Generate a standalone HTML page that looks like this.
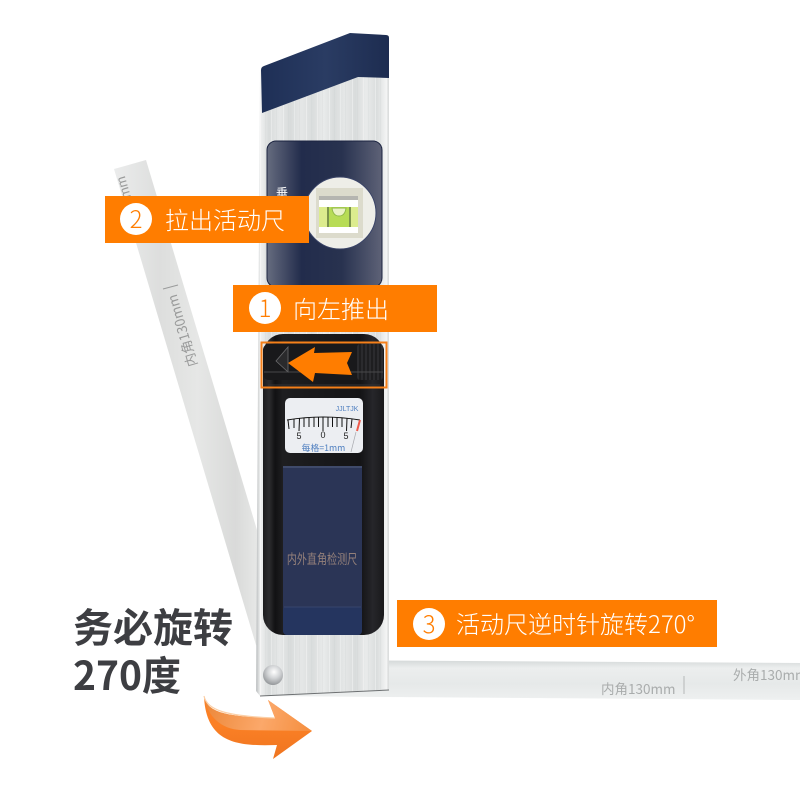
<!DOCTYPE html>
<html lang="zh"><head><meta charset="utf-8"><style>
html,body{margin:0;padding:0;background:#fff;width:800px;height:800px;overflow:hidden}
svg{display:block}
text{font-family:"Liberation Sans","Noto Sans CJK SC",sans-serif}
.cjk{font-family:"Noto Sans CJK SC",sans-serif}
.t{font-family:"Noto Sans CJK SC","Liberation Sans",sans-serif;font-weight:300;font-size:24px;fill:#fff}
.n{font-family:"Noto Sans CJK SC","Liberation Sans",sans-serif;font-weight:300;font-size:24px;fill:#ff7d00;text-anchor:middle}
.b{font-family:"Noto Sans CJK SC",sans-serif;font-weight:700;font-size:40px;fill:#3d3e42}
</style></head><body>
<svg width="800" height="800" viewBox="0 0 800 800" xmlns="http://www.w3.org/2000/svg">
<defs>
<linearGradient id="silver" x1="257" x2="390" y1="0" y2="0" gradientUnits="userSpaceOnUse">
<stop offset="0" stop-color="#c4c7c8"/><stop offset=".025" stop-color="#f0f1f1"/><stop offset=".09" stop-color="#d9dcdc"/><stop offset=".17" stop-color="#e6e8e8"/><stop offset=".25" stop-color="#d8dbdb"/><stop offset=".33" stop-color="#e5e7e7"/><stop offset=".42" stop-color="#dadddd"/><stop offset=".5" stop-color="#e9ebeb"/><stop offset=".58" stop-color="#d9dcdc"/><stop offset=".66" stop-color="#e5e7e7"/><stop offset=".74" stop-color="#d9dcdc"/><stop offset=".82" stop-color="#e9ebeb"/><stop offset=".9" stop-color="#dadddd"/><stop offset=".97" stop-color="#f2f3f3"/><stop offset="1" stop-color="#cfd2d2"/>
</linearGradient>
<pattern id="fine" x="257" y="0" width="23" height="10" patternUnits="userSpaceOnUse">
<rect x="3" width="1" height="10" fill="#fff" opacity=".35"/>
<rect x="8" width="1" height="10" fill="#c9cdcd" opacity=".2"/>
<rect x="14" width="1" height="10" fill="#fff" opacity=".3"/>
<rect x="19" width="1" height="10" fill="#c9cdcd" opacity=".2"/>
</pattern>
<linearGradient id="navy" x1="261" x2="390" y1="0" y2="0" gradientUnits="userSpaceOnUse">
<stop offset="0" stop-color="#1e2f56"/><stop offset=".5" stop-color="#2a3c63"/><stop offset="1" stop-color="#1d2c50"/>
</linearGradient>
<linearGradient id="panel" x1="267" x2="382" y1="0" y2="0" gradientUnits="userSpaceOnUse">
<stop offset="0" stop-color="#666c7f"/><stop offset=".3" stop-color="#222c4c"/><stop offset=".65" stop-color="#28324f"/><stop offset="1" stop-color="#5e6277"/>
</linearGradient>
<linearGradient id="black" x1="263" x2="385" y1="0" y2="0" gradientUnits="userSpaceOnUse">
<stop offset="0" stop-color="#1c1c1e"/><stop offset=".05" stop-color="#2c2c2e"/><stop offset=".1" stop-color="#111113"/><stop offset=".16" stop-color="#1e1e20"/><stop offset=".8" stop-color="#141416"/><stop offset=".9" stop-color="#26262a"/><stop offset="1" stop-color="#18181a"/>
</linearGradient>
<linearGradient id="strip" x1="0" x2="1" y1="0" y2="0">
<stop offset="0" stop-color="#ebecec"/><stop offset=".3" stop-color="#dddedd"/><stop offset=".55" stop-color="#e6e7e6"/><stop offset=".8" stop-color="#d9dad9"/><stop offset="1" stop-color="#ecedec"/>
</linearGradient>
<linearGradient id="hstrip" x1="0" x2="0" y1="0" y2="1">
<stop offset="0" stop-color="#d4d8d8"/><stop offset=".2" stop-color="#eceeee"/><stop offset=".6" stop-color="#e6e9e9"/><stop offset="1" stop-color="#eef0f0"/>
</linearGradient>
<linearGradient id="arrowTop" x1="204" y1="700" x2="312" y2="730" gradientUnits="userSpaceOnUse">
<stop offset="0" stop-color="#ec8738"/><stop offset=".55" stop-color="#fba86a"/><stop offset="1" stop-color="#f58e3e"/>
</linearGradient>
<linearGradient id="arrowBot" x1="0" y1="725" x2="0" y2="760" gradientUnits="userSpaceOnUse">
<stop offset="0" stop-color="#fb8025"/><stop offset="1" stop-color="#ee7420"/>
</linearGradient>
<radialGradient id="rivet" cx=".55" cy=".35" r=".7">
<stop offset="0" stop-color="#fff"/><stop offset=".45" stop-color="#d2d4d6"/><stop offset="1" stop-color="#8c8f92"/>
</radialGradient>
</defs>

<!-- sliding ruler (pulled out) -->
<polygon points="114,169 146,160 266,560 266,652 256,645" fill="url(#strip)"/>
<text transform="translate(197.500,365) rotate(-106.4)" font-size="13.500" fill="#9a9b9b" class="cjk">内角130mm</text>
<line x1="163" y1="289" x2="178" y2="285" stroke="#9a9b9b" stroke-width="1"/>
<text transform="translate(131,197) rotate(-106.4)" font-size="13.500" fill="#9a9b9b">mm</text>

<!-- horizontal ruler -->
<polygon points="260,696 300,660 800,663 800,700 389,697" fill="url(#hstrip)"/>
<text x="601" y="694" font-size="13.500" fill="#a9acac" class="cjk">内角130mm</text>
<text x="733" y="680" font-size="13.500" fill="#a9acac" class="cjk">外角130mm</text>
<line x1="684" y1="676" x2="684" y2="694" stroke="#b5b8b8" stroke-width="1"/>

<!-- body -->
<polygon points="260,70 389,36 389,690 260,696 256,691" fill="url(#silver)"/>
<polygon points="260,70 389,36 389,690 260,696 256,691" fill="url(#fine)"/>
<line x1="260" y1="696" x2="389" y2="690" stroke="#6d7072" stroke-width="1"/>
<path d="M261,70 Q261,67 264,66 L350,33 L386,35 Q389,35 389,38 L389,78 L358,77 L262,113 Z" fill="url(#navy)"/>

<!-- level panel -->
<rect x="267" y="141" width="115" height="146" rx="9" fill="url(#panel)" stroke="#1b2340" stroke-width="1"/>
<text x="282" y="197" font-size="12" fill="#fff" text-anchor="middle" class="cjk">垂</text>
<circle cx="340" cy="213" r="36" fill="#eeeee8" stroke="#3a4468" stroke-width="1"/>
<rect x="316" y="188" width="47" height="50" fill="#dcdbcc"/>
<rect x="319" y="196" width="39" height="37" fill="#fff"/>
<rect x="319" y="196" width="39" height="4" fill="#b5b5b0"/>
<rect x="319" y="207" width="39" height="20" fill="#dcec8e"/>
<rect x="329" y="207" width="20" height="20" fill="#b7dc55"/>
<path d="M332,208 h14 q-1,8 -7,8 q-6,0 -7,-8z" fill="#eaf2c4" stroke="#8fb847" stroke-width="1"/>
<line x1="328" y1="207" x2="328" y2="227" stroke="#3d5a20" stroke-width="1.2"/>
<line x1="350" y1="207" x2="350" y2="227" stroke="#3d5a20" stroke-width="1.2"/>

<!-- black housing -->
<rect x="263" y="334" width="121" height="301" rx="20" fill="url(#black)"/>
<rect x="263" y="344" width="121" height="36" rx="6" fill="#19191b"/>
<rect x="357" y="344" width="26" height="36" rx="3" fill="#2b2b2e"/>
<path d="M360,344v36M364,344v36M368,344v36M372,344v36M376,344v36M380,344v36" stroke="#161618" stroke-width="1.2"/>
<path d="M288,347 L276,361 L288,372 Z" fill="#2a2a2c" stroke="#6b6b6d" stroke-width=".8"/>
<line x1="264" y1="372" x2="383" y2="372" stroke="#48484a" stroke-width="1"/>
<line x1="268" y1="385" x2="380" y2="385" stroke="#333335" stroke-width="1"/>

<!-- gauge -->
<rect x="285" y="398" width="78" height="55" rx="5" fill="#eceef2"/>
<path d="M287,420 Q323,414 360,420" fill="none" stroke="#111" stroke-width="1"/>
<g stroke="#111" stroke-width="1">
<line x1="288" y1="420" x2="289" y2="429"/><line x1="294" y1="419" x2="294" y2="428"/><line x1="299.500" y1="418.500" x2="299" y2="431"/><line x1="304" y1="418" x2="304" y2="427"/><line x1="309" y1="418" x2="309" y2="427"/><line x1="314" y1="417.500" x2="314" y2="427"/><line x1="318.500" y1="417.500" x2="318.500" y2="427"/><line x1="323" y1="417" x2="323" y2="431"/><line x1="328" y1="417.500" x2="328" y2="427"/><line x1="332.500" y1="417.500" x2="332.500" y2="427"/><line x1="337" y1="418" x2="337" y2="427"/><line x1="342" y1="418" x2="342" y2="427"/><line x1="347" y1="418.500" x2="346.500" y2="431"/><line x1="352" y1="419" x2="351" y2="428"/>
</g>
<line x1="360" y1="420" x2="357" y2="431" stroke="#ef5a4c" stroke-width="2"/>
<line x1="356" y1="432" x2="351" y2="452" stroke="#a9aab0" stroke-width=".7"/>
<g font-size="9" fill="#222" text-anchor="middle"><text x="299" y="439">5</text><text x="323" y="438">0</text><text x="346" y="439">5</text></g>
<text x="323.500" y="451" font-size="8.800" fill="#4f7fc0" text-anchor="middle" class="cjk">每格=1mm</text>
<text x="347" y="411" font-size="7" fill="#4f7fc0" text-anchor="middle">JJLTJK</text>

<!-- navy lid -->
<path d="M283,466 H362 V630 Q362,635 357,635 H288 Q283,635 283,630 Z" fill="#2b3556"/>
<rect x="283" y="466" width="79" height="2" fill="#3f4a6a"/>
<rect x="283" y="607" width="79" height="28" rx="4" fill="#25355f"/>
<line x1="284" y1="607" x2="361" y2="607" stroke="#37456c" stroke-width="1"/>
<text transform="translate(322,564) scale(.875,1.2)" font-size="11.500" fill="#94807a" text-anchor="middle" class="cjk">内外直角检测尺</text>

<circle cx="273" cy="675" r="10" fill="url(#rivet)"/>

<!-- highlight frame and arrow -->
<rect x="261.500" y="342.500" width="125" height="45" fill="none" stroke="#f5801a" stroke-width="2"/>
<polygon points="288,363 315,347 314,353 352,352 347,363 352,375 315,373 313,382" fill="#ff7d00"/>

<!-- orange labels -->
<rect x="105" y="196" width="204" height="47" fill="#ff7d00"/>
<circle cx="136" cy="219" r="16" fill="#fff"/>
<text x="136" y="228" class="n">2</text>
<text x="165" y="229" class="t">拉出活动尺</text>

<rect x="233" y="285" width="204" height="47" fill="#ff7d00"/>
<circle cx="265" cy="308" r="16" fill="#fff"/>
<text x="265" y="317" class="n">1</text>
<text x="293" y="318" class="t">向左推出</text>

<rect x="397" y="600" width="320" height="47" fill="#ff7d00"/>
<circle cx="429" cy="624" r="16" fill="#fff"/>
<text x="429" y="633" class="n">3</text>
<text x="456" y="633" class="t">活动尺逆时针旋转270°</text>

<!-- bold warning -->
<text x="73" y="642" class="b">务必旋转</text>
<text x="73" y="690" class="b" textLength="108" lengthAdjust="spacingAndGlyphs">270度</text>

<!-- curved arrow -->
<path d="M204,696 C205,712 225,717 275,718 L268,700 L312,731 L273,759 L277,745 C240,746 206,745 204,696Z" fill="url(#arrowBot)"/>
<path d="M204,696 C207,712 225,717 275,718 L268,700 L312,731 L240,730 C222,729 207,717 204,696Z" fill="url(#arrowTop)"/>
<path d="M204,696 C207,710 225,716 275,718" fill="none" stroke="#fbd0a8" stroke-width="1.2"/>
</svg>
</body></html>
